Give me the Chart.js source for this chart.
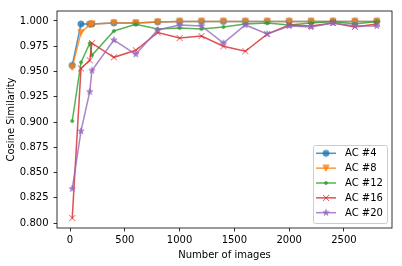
<!DOCTYPE html>
<html>
<head>
<meta charset="utf-8">
<script src="https://cdn.jsdelivr.net/npm/chart.js@4.4.0/dist/chart.umd.min.js"></script>
<style>
  html, body { margin: 0; padding: 0; background: #fff; }
  canvas { display: block; }
</style>
</head>
<body>
<canvas id="chart" width="402" height="266"></canvas>
<script>
// number of images used for each measurement
const nImages = [20, 100, 180, 200, 400, 600, 800, 1000, 1200, 1400, 1600, 1800, 2000, 2200, 2400, 2600, 2800];

// cosine similarity per AC
const ac4  = [0.956, 0.997, 0.997, 0.997, 0.998, 0.998, 0.999, 0.9995, 0.9995, 0.9995, 0.9995, 0.9995, 0.9995, 0.9995, 0.9995, 0.9995, 0.9995];
const ac8  = [0.954, 0.9885, 0.996, 0.997, 0.998, 0.998, 0.999, 0.9995, 0.9995, 0.9995, 0.9995, 0.9995, 0.9995, 0.9995, 0.9995, 0.9995, 0.9995];
const ac12 = [0.901, 0.959, 0.978, 0.966, 0.990, 0.9967, 0.992, 0.993, 0.992, 0.994, 0.997, 0.998, 0.996, 0.998, 0.9995, 0.997, 0.9995];
const ac16 = [0.805, 0.953, 0.961, 0.978, 0.964, 0.971, 0.9885, 0.983, 0.985, 0.975, 0.970, 0.987, 0.996, 0.995, 0.998, 0.994, 0.997];
const ac20 = [0.834, 0.891, 0.930, 0.951, 0.981, 0.967, 0.991, 0.996, 0.995, 0.978, 0.996, 0.987, 0.995, 0.994, 0.998, 0.995, 0.995];

const seriesNames = ['AC #4', 'AC #8', 'AC #12', 'AC #16', 'AC #20'];
const xTicks = [0, 500, 1000, 1500, 2000, 2500];
const yTicks = [0.800, 0.825, 0.850, 0.875, 0.900, 0.925, 0.950, 0.975, 1.000];

const colors = ['31,119,180', '255,127,14', '44,160,44', '214,39,40', '148,103,189'];
const kinds = ['o', 'v', '.', 'x', '*'];
const FONT = 'DejaVu Sans';

// matplotlib-like marker drawn once into a small canvas
function marker(kind, rgb) {
  const c = document.createElement('canvas');
  c.width = c.height = 14;
  const g = c.getContext('2d');
  g.translate(7, 7);
  g.fillStyle = g.strokeStyle = 'rgb(' + rgb + ')';
  g.lineWidth = 1;
  g.beginPath();
  if (kind === 'o') g.arc(0, 0, 3.1, 0, Math.PI * 2);
  else if (kind === 'v') { g.moveTo(-3.1, -3.1); g.lineTo(3.1, -3.1); g.lineTo(0, 3.1); g.closePath(); }
  else if (kind === '.') g.arc(0, 0, 1.5, 0, Math.PI * 2);
  else if (kind === 'x') { g.moveTo(-3, -3); g.lineTo(3, 3); g.moveTo(-3, 3); g.lineTo(3, -3); }
  else {
    for (let i = 0; i < 10; i++) {
      const r = i % 2 ? 1.25 : 3.3;
      const a = -Math.PI / 2 + i * Math.PI / 5;
      g.lineTo(r * Math.cos(a), r * Math.sin(a));
    }
    g.closePath();
  }
  if (kind !== 'x') g.fill();
  g.stroke();
  const out = document.createElement('canvas');
  out.width = out.height = 14;
  const o = out.getContext('2d');
  o.globalAlpha = 0.8;
  o.drawImage(c, 0, 0);
  return out;
}

const markers = kinds.map((k, i) => marker(k, colors[i]));
const values = [ac4, ac8, ac12, ac16, ac20];

const datasets = values.map((vals, i) => ({
  label: seriesNames[i],
  data: nImages.map((x, j) => ({ x: x, y: vals[j] })),
  borderColor: 'rgba(' + colors[i] + ',0.8)',
  backgroundColor: 'rgba(' + colors[i] + ',0.8)',
  borderWidth: 1.5,
  pointStyle: markers[i],
  pointRadius: 4,
  tension: 0,
  order: 4 - i
}));

// axes frame + legend box like matplotlib
const frameAndLegend = {
  id: 'frameAndLegend',
  afterDraw(chart) {
    const ctx = chart.ctx;
    const a = chart.chartArea;
    ctx.save();
    ctx.strokeStyle = '#000';
    ctx.lineWidth = 0.8;
    ctx.strokeRect(a.left, a.top, a.right - a.left, a.bottom - a.top);

    // legend
    const bx = 313, by = 145, bw = 74, bh = 78;
    ctx.fillStyle = 'rgba(255,255,255,0.8)';
    ctx.strokeStyle = '#ccc';
    ctx.lineWidth = 1;
    ctx.beginPath();
    ctx.roundRect(bx + 0.5, by + 0.5, bw, bh, 2);
    ctx.fill();
    ctx.stroke();
    ctx.font = '10px "' + FONT + '"';
    ctx.textBaseline = 'middle';
    ctx.textAlign = 'left';
    seriesNames.forEach((name, i) => {
      const y = 153.3 + i * 14.85;
      ctx.strokeStyle = 'rgba(' + colors[i] + ',0.8)';
      ctx.lineWidth = 1.5;
      ctx.beginPath();
      ctx.moveTo(316, y);
      ctx.lineTo(336, y);
      ctx.stroke();
      ctx.drawImage(markers[i], 326 - 7, y - 7);
      ctx.fillStyle = '#000';
      ctx.fillText(name, 345, y + 0.5);
    });
    ctx.restore();
  }
};

const tickFont = { family: FONT, size: 10 };

new Chart(document.getElementById('chart'), {
  type: 'line',
  data: { datasets: datasets },
  options: {
    responsive: false,
    animation: false,
    layout: { padding: { top: 10, right: 10, left: 0, bottom: 0 } },
    plugins: { legend: { display: false }, tooltip: { enabled: false } },
    scales: {
      x: {
        type: 'linear',
        min: -119,
        max: 2939,
        afterBuildTicks: s => { s.ticks = xTicks.map(v => ({ value: v })); },
        afterFit: s => { s.height = 38; },
        grid: { drawOnChartArea: false, drawTicks: true, tickLength: 3.5, tickWidth: 0.8, tickColor: '#000' },
        border: { display: false },
        ticks: { font: tickFont, color: '#000', padding: 3, maxRotation: 0, callback: v => String(v) },
        title: { display: true, text: 'Number of images', font: tickFont, color: '#000', padding: { top: 0, bottom: 5 } }
      },
      y: {
        min: 0.7952,
        max: 1.0098,
        afterBuildTicks: s => { s.ticks = yTicks.map(v => ({ value: v })); },
        afterFit: s => { s.width = 57; },
        grid: { drawOnChartArea: false, drawTicks: true, tickLength: 3.5, tickWidth: 0.8, tickColor: '#000' },
        border: { display: false },
        ticks: { font: tickFont, color: '#000', padding: 5, callback: v => v.toFixed(3) },
        title: { display: true, text: 'Cosine Similarity', font: tickFont, color: '#000', padding: { top: 5, bottom: 0 } }
      }
    }
  },
  plugins: [frameAndLegend]
});
</script>
</body>
</html>
